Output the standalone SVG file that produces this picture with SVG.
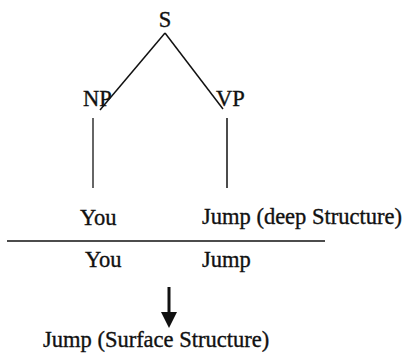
<svg xmlns="http://www.w3.org/2000/svg" width="408" height="353" viewBox="0 0 408 353">
<style>
text{font-family:"Liberation Serif","Times New Roman",serif;font-size:22.5px;fill:#111;stroke:#111;stroke-width:0.35}
.e{stroke:#111;stroke-width:1.5;fill:none}
</style>
<rect width="408" height="353" fill="#fff"/>
<g id="connectors">
<line class="e" x1="165" y1="33" x2="100" y2="110"/>
<line class="e" x1="165" y1="33" x2="223" y2="109"/>
<line x1="93" y1="118" x2="93" y2="188" stroke="#666" stroke-width="2"/>
<line class="e" x1="227" y1="118" x2="227" y2="188"/>
<line class="e" x1="7" y1="241" x2="325" y2="241"/>
<line x1="169" y1="287" x2="169" y2="313" stroke="#111" stroke-width="3"/>
<path d="M161,312 L177,312 L169,328 Z" fill="#111"/>
</g>
<g id="S"><text x="165" y="27" text-anchor="middle">S</text></g>
<g id="NP"><text x="83" y="106">NP</text></g>
<g id="VP"><text x="216" y="106">VP</text></g>
<g id="You1"><text x="80" y="225">You</text></g>
<g id="Jump1"><text x="202" y="224">Jump (deep Structure)</text></g>
<g id="You2"><text x="85" y="267">You</text></g>
<g id="Jump2"><text x="202" y="267">Jump</text></g>
<g id="Surface"><text x="43" y="347">Jump (Surface Structure)</text></g>
</svg>
